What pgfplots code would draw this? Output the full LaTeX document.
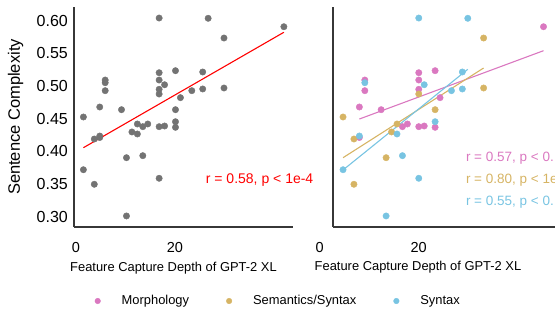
\documentclass[border=0pt]{standalone}
\usepackage{pgfplots}
\pgfplotsset{compat=1.18}
\usepackage{pgfplotstable}
\usepackage{fontspec}
\setmainfont{Liberation Sans}
\definecolor{cpink}{RGB}{218,120,192}
\definecolor{cgold}{RGB}{214,180,100}
\definecolor{cblue}{RGB}{120,196,226}
\definecolor{cgray}{RGB}{115,115,115}
\definecolor{spine}{RGB}{55,55,55}

\pgfplotstableread{
x y
16.8 0.5204
20.1 0.5235
5.9 0.5092
5.9 0.4929
16.8 0.5092
16.8 0.4950
4.8 0.4679
9.2 0.4638
21.1 0.4822
42.0 0.5908
4.8 0.4212
13.5 0.4378
14.5 0.4419
16.8 0.4378
17.9 0.4388
20.1 0.4368
}\pinkdata

\pgfplotstableread{
x y
16.8 0.4878
1.5 0.4526
20.1 0.4638
29.9 0.5735
29.9 0.4970
3.7 0.4189
3.7 0.3496
10.2 0.3903
11.3 0.4297
12.4 0.4419
}\golddata

\pgfplotstableread{
x y
16.8 0.6041
5.9 0.5051
17.9 0.5020
26.7 0.6037
25.6 0.5215
23.4 0.4929
25.6 0.4955
4.8 0.4235
1.5 0.3719
10.2 0.3011
12.4 0.4266
13.5 0.3934
20.1 0.4454
16.8 0.3588
}\bluedata

\pgfplotsset{
  panel/.style={
    scale only axis, height=220pt,
    ymin=0.2842, ymax=0.621,
    axis lines*=left,
    axis line style={-, draw=spine, line width=1.2pt},
    major tick length=0pt,
    hide obscured x ticks=false,
    hide obscured y ticks=false,
    xtick={0,20},
    ytick={0.30,0.35,0.40,0.45,0.50,0.55,0.60},
    /pgf/number format/assume math mode=true,
    xticklabel style={font=\fontsize{14.5}{16}\selectfont, inner sep=0pt, anchor=north, yshift=-15pt},
    yticklabel style={font=\fontsize{16}{18}\selectfont, inner sep=0pt, anchor=east, xshift=-6pt},
    xlabel={Feature Capture Depth of GPT-2 XL},
    xlabel style={at={(rel axis cs:0.5,0)}, anchor=base, inner sep=0pt, yshift=-44pt, font=\fontsize{12.9}{15}\selectfont},
    clip=false,
  },
  dots/.style={only marks, mark=*, mark size=3.2pt, mark options={draw=none, fill=#1}, color=#1},
}

\begin{document}
\begin{tikzpicture}
% Left panel
\begin{axis}[panel,
  at={(74pt,84pt)}, anchor=south west,
  width=219pt, xmin=-0.4, xmax=43.84,
  yticklabels={0.30,0.35,0.40,0.45,0.50,0.55,0.60},
  xlabel style={xshift=-10pt},
  ylabel={Sentence Complexity},
  ylabel style={at={(rel axis cs:0,0.5)}, anchor=center, yshift=58.3pt, inner sep=0pt, font=\fontsize{16.5}{18}\selectfont},
]
\addplot[dots=cgray] table[x=x,y=y] {\pinkdata};
\addplot[dots=cgray] table[x=x,y=y] {\golddata};
\addplot[dots=cgray] table[x=x,y=y] {\bluedata};
\addplot[red, line width=1.1pt] coordinates {(1.5,0.4056) (42.0,0.5823)};
\node[anchor=base west, inner sep=0pt, text=red, font=\fontsize{14}{16}\selectfont] at (axis cs:26.2,0.3511) {r = 0.58, p < 1e-4};
\end{axis}
% Right panel
\begin{axis}[panel,
  at={(333pt,84pt)}, anchor=south west,
  width=222pt, xmin=-0.53, xmax=44.32,
  yticklabels={},
  xticklabel style={xshift=-16pt},
  xlabel style={xshift=-26pt},
  legend columns=3,
  legend style={at={(rel axis cs:-1.0743,-0.3364)}, anchor=west, draw=none, fill=none, inner sep=0pt,
    font=\fontsize{12.9}{15}\selectfont, nodes={inner sep=0pt},
    /tikz/every even column/.append style={column sep=37pt}},
  legend image code/.code={\draw[mark repeat=2,mark phase=2,#1,mark size=2.8pt] plot coordinates {(-6pt,0pt) (0pt,0pt) (6pt,0pt)}; \path[draw=none,fill=none] (-3pt,-3pt) (24pt,3pt);},
]
\addplot[dots=cpink] table[x=x,y=y] {\pinkdata};
\addlegendentry{Morphology}
\addplot[cpink, line width=1.1pt, forget plot] coordinates {(4.8,0.4495) (42.0,0.5541)};
\addplot[dots=cgold] table[x=x,y=y] {\golddata};
\addlegendentry{Semantics/Syntax}
\addplot[cgold, line width=1.1pt, forget plot] coordinates {(1.5,0.3903) (29.9,0.5276)};
\addplot[dots=cblue] table[x=x,y=y] {\bluedata};
\addlegendentry{Syntax}
\addplot[cblue, line width=1.1pt, forget plot] coordinates {(1.5,0.3715) (26.7,0.5256)};
\node[anchor=base west, inner sep=0pt, text=cpink, font=\fontsize{13.5}{16}\selectfont] at (axis cs:26.3,0.3845) {r = 0.57, p < 0.};
\node[anchor=base west, inner sep=0pt, text=cgold, font=\fontsize{13.5}{16}\selectfont] at (axis cs:26.3,0.3508) {r = 0.80, p < 1e};
\node[anchor=base west, inner sep=0pt, text=cblue, font=\fontsize{13.5}{16}\selectfont] at (axis cs:26.3,0.3171) {r = 0.55, p < 0.};
\end{axis}
\pgfresetboundingbox
\useasboundingbox (0pt,0pt) rectangle (555pt,311pt);
\end{tikzpicture}
\end{document}
